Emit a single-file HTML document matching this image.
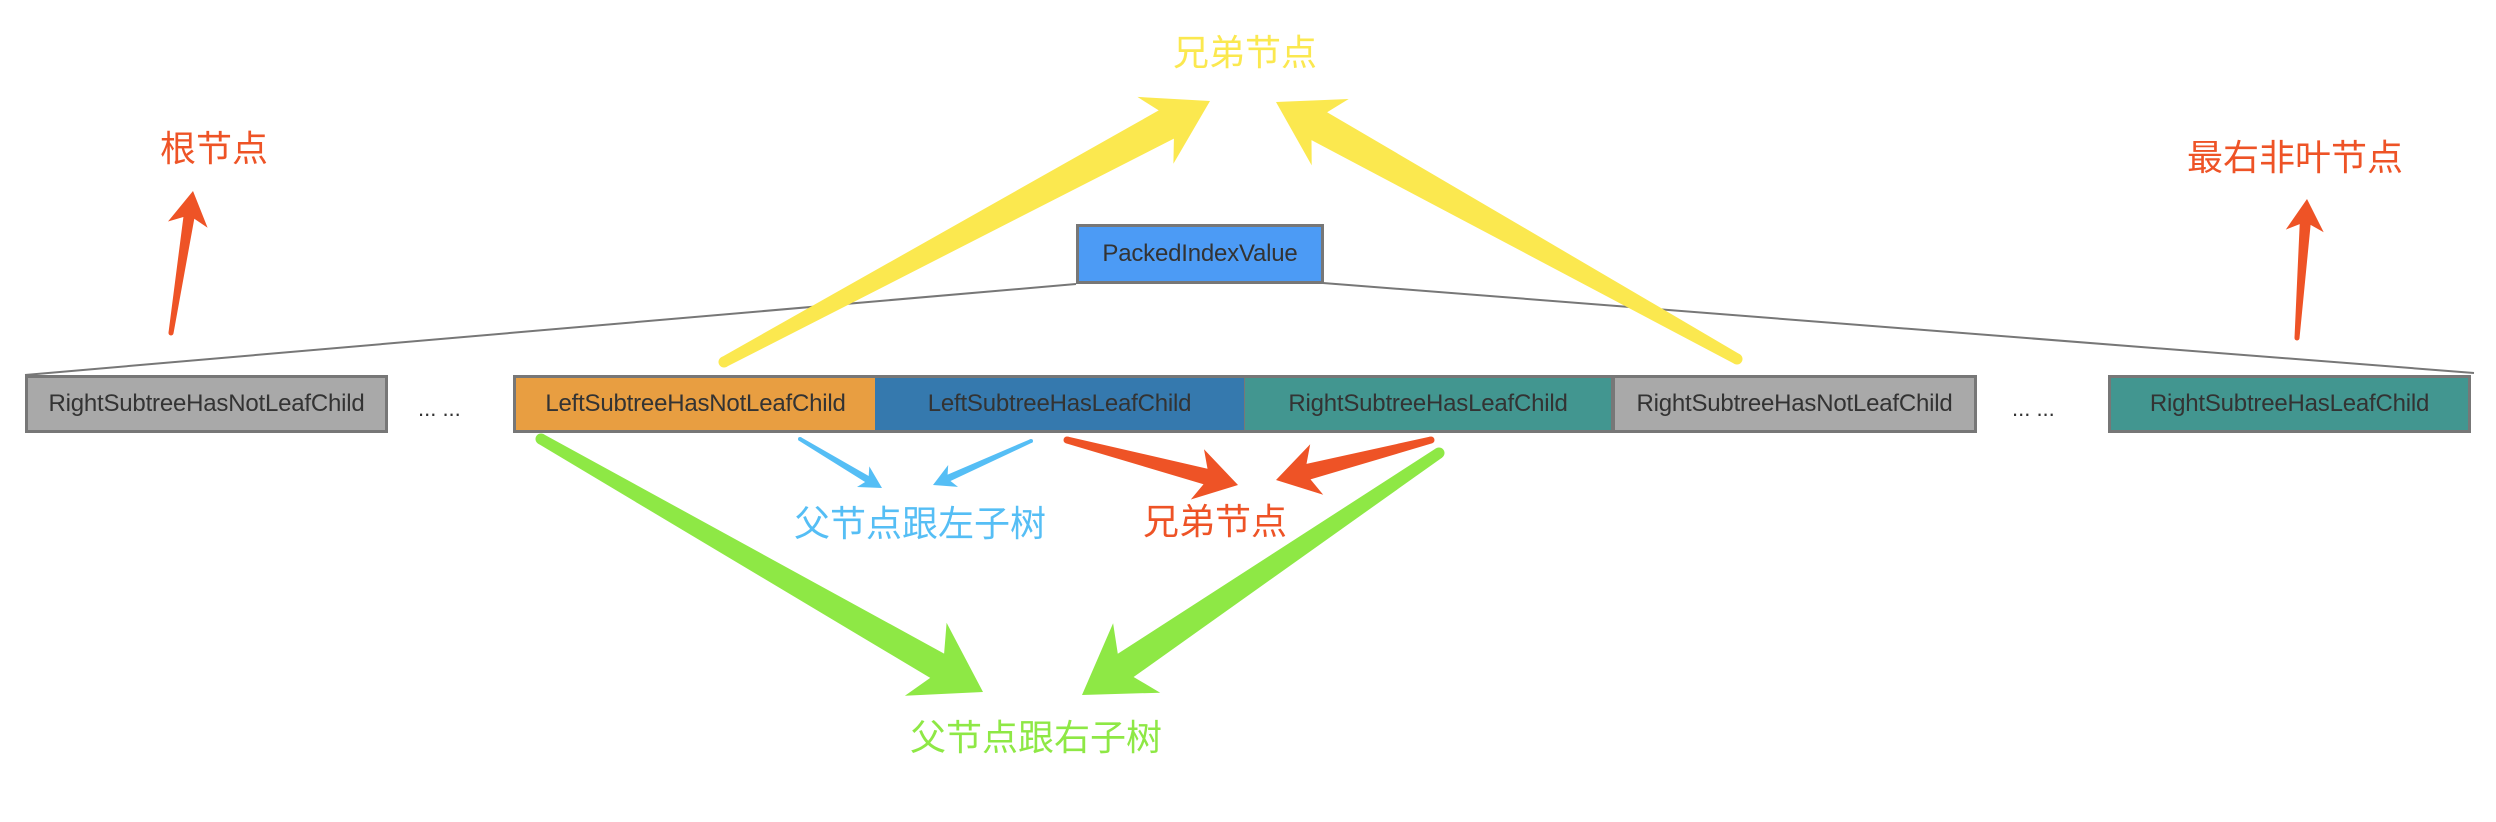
<!DOCTYPE html>
<html><head><meta charset="utf-8"><style>
html,body{margin:0;padding:0;background:#fff;width:2496px;height:822px;overflow:hidden}
.b{position:absolute;box-sizing:border-box;border:3px solid #777;height:58px;top:375px;font:24px "Liberation Sans",sans-serif;color:#333;display:flex;align-items:center;justify-content:center;white-space:nowrap;letter-spacing:-0.2px}
.t{position:absolute;font:36px "Liberation Sans","Noto Sans CJK SC",sans-serif;white-space:nowrap;line-height:1}
.d{position:absolute;font:22px "Liberation Sans",sans-serif;color:#333;top:396px}
</style></head><body>
<svg id="s" width="2496" height="822" style="position:absolute;left:0;top:0">
<line x1="1076" y1="284" x2="25" y2="375" stroke="#777" stroke-width="2"/>
<line x1="1323" y1="283" x2="2474" y2="373" stroke="#777" stroke-width="2"/>
</svg>
<div class="b" style="left:1076px;top:224px;width:248px;height:60px;background:#4c9bf5">PackedIndexValue</div>
<div class="b" style="left:25px;width:363px;background:#a9a9a9">RightSubtreeHasNotLeafChild</div>
<div class="d" style="left:418px">... ...</div>
<div class="b" style="left:513px;width:365px;background:#e89e41">LeftSubtreeHasNotLeafChild</div>
<div class="b" style="left:875px;width:372px;background:#3579ae;border-left:none">LeftSubtreeHasLeafChild</div>
<div class="b" style="left:1245px;width:369px;background:#429690;border-left:none">RightSubtreeHasLeafChild</div>
<div class="b" style="left:1612px;width:365px;background:#a9a9a9">RightSubtreeHasNotLeafChild</div>
<div class="d" style="left:2012px">... ...</div>
<div class="b" style="left:2108px;width:363px;background:#429690">RightSubtreeHasLeafChild</div>
<div class="t" style="left:160px;top:131px;color:#ee5326">根节点</div>
<div class="t" style="left:1173px;top:35px;color:#fbe84f">兄弟节点</div>
<div class="t" style="left:2187px;top:140px;color:#ee5326">最右非叶节点</div>
<div class="t" style="left:794px;top:506px;color:#55bef5">父节点跟左子树</div>
<div class="t" style="left:1143px;top:504px;color:#ee5326">兄弟节点</div>
<div class="t" style="left:910px;top:720px;color:#8ee845">父节点跟右子树</div>
<script>
var s=document.getElementById('s');
function A(tx,ty,px,py,w0,w1,L,H,c){
 var dx=px-tx,dy=py-ty,len=Math.hypot(dx,dy),ux=dx/len,uy=dy/len,nx=-uy,ny=ux;
 var bx=px-ux*L,by=py-uy*L,nbx=px-ux*L*0.8,nby=py-uy*L*0.8;
 var pts=[[tx+nx*w0/2,ty+ny*w0/2],[nbx+nx*w1/2,nby+ny*w1/2],[bx+nx*H,by+ny*H],[px,py],[bx-nx*H,by-ny*H],[nbx-nx*w1/2,nby-ny*w1/2],[tx-nx*w0/2,ty-ny*w0/2]];
 var p=document.createElementNS('http://www.w3.org/2000/svg','polygon');
 p.setAttribute('points',pts.map(function(q){return q[0].toFixed(1)+','+q[1].toFixed(1)}).join(' '));
 p.setAttribute('fill',c);s.appendChild(p);
 var e=document.createElementNS('http://www.w3.org/2000/svg','circle');
 e.setAttribute('cx',tx);e.setAttribute('cy',ty);e.setAttribute('r',w0/2);e.setAttribute('fill',c);s.appendChild(e);
}
A(171,333,193,191,5,11,34,20,'#ee5326');
A(2297,338,2307,199,5,11,32,19,'#ee5326');
A(724,362,1210,101,11,32,62,38,'#fbe84f');
A(1737,359,1276,102,11,32,62,38,'#fbe84f');
A(800,439,882,488,4,7,22,12,'#55bef5');
A(1031,441,933,485,4,7,22,12,'#55bef5');
A(1067,440,1238,485,7,16,42,26,'#ee5326');
A(1431,440,1276,480,7,16,42,26,'#ee5326');
A(541,439,983,692,11,28,66,42,'#8ee845');
A(1439,453,1082,695,11,28,66,42,'#8ee845');
</script>
</body></html>
